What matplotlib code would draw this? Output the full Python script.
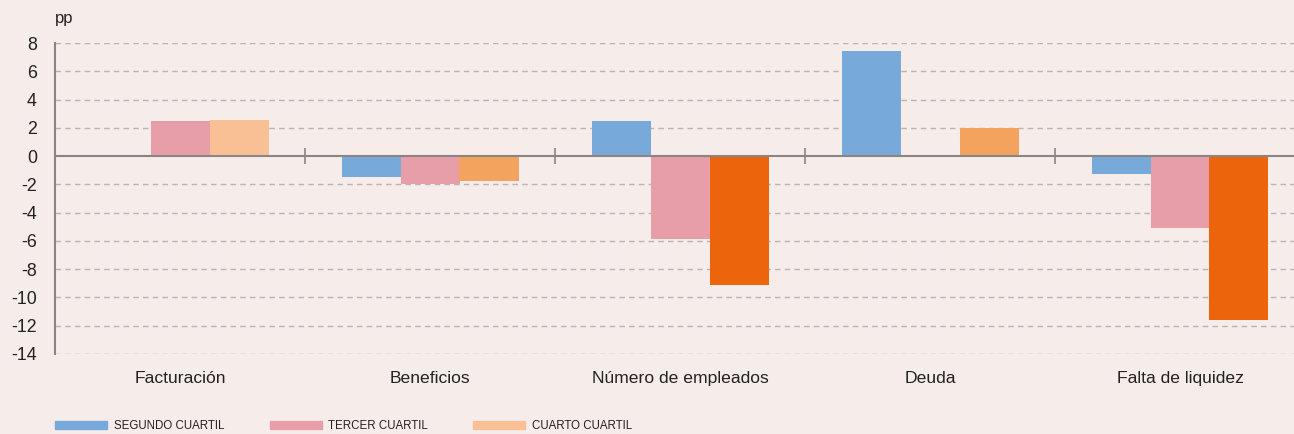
import numpy as np
import matplotlib.pyplot as plt
from matplotlib.patches import Patch

# Colors
bg_color = '#f6ecea'
c_blue = '#77aadb'
c_pink = '#e89ea8'
c_peach = '#f9c095'
c_orange = '#f4a35f'
c_dark = '#ec640c'
grid_color = '#b9b3b2'
axis_color = '#8a8584'
text_color = '#222222'

# Data
categories = ['Facturación', 'Beneficios', 'Número de empleados', 'Deuda', 'Falta de liquidez']
segundo = [0.0, -1.5, 2.5, 7.4, -1.3]
tercero = [2.5, -2.0, -5.9, 0.0, -5.1]
cuarto = [2.55, -1.75, -9.1, 2.0, -11.6]
cuarto_colors = [c_peach, c_orange, c_dark, c_orange, c_dark]
series_names = ['SEGUNDO CUARTIL', 'TERCER CUARTIL', 'CUARTO CUARTIL']
yticks = list(range(-14, 9, 2))

plt.rcParams['font.family'] = ['Liberation Sans', 'DejaVu Sans']

fig = plt.figure(figsize=(12.94, 4.34), dpi=100)
fig.set_facecolor(bg_color)
ax = fig.add_axes([55 / 1294, 80 / 434, 1250 / 1294, 311 / 434])
ax.set_facecolor(bg_color)

x = np.arange(len(categories))
w = 0.236
ax.bar(x - w, segundo, w, color=c_blue, zorder=3)
ax.bar(x, tercero, w, color=c_pink, zorder=3)
ax.bar(x + w, cuarto, w, color=cuarto_colors, zorder=3)

ax.set_ylim(-14, 8)
ax.set_xlim(-0.5, 4.5)
ax.set_yticks(yticks)
ax.set_yticklabels([str(v) for v in yticks], fontsize=12.8, color=text_color)
ax.tick_params(axis='y', length=0, pad=13)
for v in yticks:
    if v != 0:
        ax.axhline(v, color=grid_color, lw=1, ls=(0, (4, 3)), zorder=1)
ax.axhline(0, color=axis_color, lw=1.5, zorder=4)

for side in ['top', 'right', 'bottom']:
    ax.spines[side].set_visible(False)
ax.spines['left'].set_color(axis_color)
ax.spines['left'].set_linewidth(1.5)

# Category labels at the bottom
ax.set_xticks(x)
ax.set_xticklabels(categories, fontsize=12.6, color=text_color)
ax.tick_params(axis='x', length=0, pad=12)

# Boundary tick marks on the zero line
sec = ax.secondary_xaxis(14 / 22)
sec.set_xticks(x[:-1] + 0.5)
sec.set_xticklabels([])
sec.tick_params(direction='inout', length=11, width=1.2, color=axis_color)
sec.spines['bottom'].set_visible(False)
sec.spines['top'].set_visible(False)

fig.text(55 / 1294, 1 - 19 / 434, 'pp', fontsize=12, color=text_color, va='center')

handles = [Patch(color=c) for c in [c_blue, c_pink, c_peach]]
leg = fig.legend(handles, series_names, loc='center left', ncol=3,
                 bbox_to_anchor=(45 / 1294, 1 - 426 / 434), frameon=False,
                 handlelength=4.5, handleheight=0.8, handletextpad=0.6, columnspacing=3.9,
                 prop={'size': 8.3})
for t in leg.get_texts():
    t.set_color(text_color)

fig.savefig('out.png', dpi=100, facecolor=bg_color)
